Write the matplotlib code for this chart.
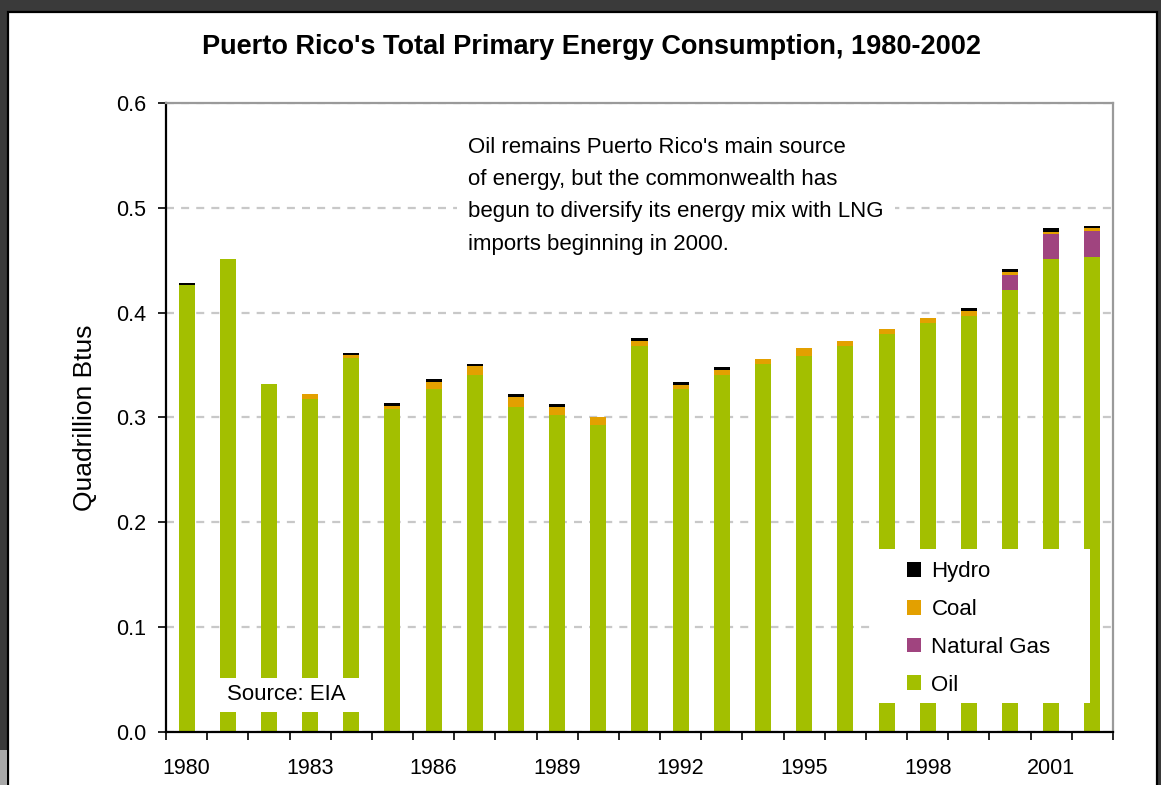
import matplotlib
matplotlib.use('Agg')
import numpy as np
import matplotlib.pyplot as plt
from matplotlib.patches import Patch, Rectangle


# Values (quadrillion Btu)

years = list(range(1980, 2003))

oil = [0.426, 0.451, 0.332, 0.3175, 0.3565, 0.308, 0.327, 0.341, 0.310, 0.3025,
       0.293, 0.368, 0.327, 0.341, 0.351, 0.359, 0.3686, 0.380, 0.390, 0.397,
       0.422, 0.451, 0.4535]
natural_gas = [0, 0, 0, 0, 0, 0, 0, 0, 0, 0,
               0, 0, 0, 0, 0, 0, 0, 0, 0, 0,
               0.0142, 0.0242, 0.0245]
coal = [0, 0, 0, 0.0045, 0.003, 0.003, 0.007, 0.008, 0.0096, 0.0073,
        0.007, 0.005, 0.004, 0.0044, 0.005, 0.0073, 0.0045, 0.0048, 0.0047, 0.0048,
        0.0026, 0.0022, 0.0026]
hydro = [0.002, 0, 0, 0, 0.0023, 0.0025, 0.0025, 0.0023, 0.003, 0.003,
         0, 0.0026, 0.003, 0.003, 0, 0, 0, 0, 0, 0.0029,
         0.003, 0.003, 0.0025]

series_names = ['Oil', 'Natural Gas', 'Coal', 'Hydro']
series_colors = ['#a3bf00', '#a0447f', '#e3a000', '#000000']

ytick_values = [0.0, 0.1, 0.2, 0.3, 0.4, 0.5, 0.6]

note = ("Oil remains Puerto Rico's main source\n"
        "of energy, but the commonwealth has\n"
        "begun to diversify its energy mix with LNG\n"
        "imports beginning in 2000.")

plt.rcParams['font.family'] = ['Liberation Sans', 'DejaVu Sans']

W, H = 1161, 785
fig = plt.figure(figsize=(W / 100, H / 100), dpi=100)
fig.patch.set_facecolor('#3a3a3a')

# white panel with black frame (screenshot of the chart object)
fig.patches.append(Rectangle((8 / W, -0.02), (1157 - 8) / W, 1 - 12 / H + 0.02,
                             transform=fig.transFigure, facecolor='white',
                             edgecolor='black', linewidth=1.6, zorder=-10))
fig.patches.append(Rectangle((0, 0), 7 / W, 35 / H, transform=fig.transFigure,
                             facecolor='#a8a8a8', edgecolor='none', zorder=-10))

fig.text(591 / W, 1 - 47 / H,
         "Puerto Rico's Total Primary Energy Consumption, 1980-2002",
         ha='center', va='center', fontsize=19.5, fontweight='bold')

ax = fig.add_axes([166 / W, 1 - 732 / H, (1113 - 166) / W, (732 - 103) / H])
ax.set_facecolor('white')

x = np.arange(len(years))
bottom = np.zeros(len(years))
for vals, name, col in zip([oil, natural_gas, coal, hydro], series_names, series_colors):
    ax.bar(x, vals, 0.39, bottom=bottom, color=col, linewidth=0, zorder=2, label=name)
    bottom += np.array(vals)

ax.set_xlim(-0.5, len(years) - 0.5)
ax.set_ylim(0, 0.6)

# y axis
ax.set_yticks(ytick_values)
ax.set_yticklabels(['{:.1f}'.format(v) for v in ytick_values], fontsize=15.5)
ax.tick_params(axis='y', direction='out', length=6, width=1.2, pad=8)
ax.set_ylabel('Quadrillion Btus', fontsize=19)
ax.yaxis.set_label_coords(-0.073, 0.5)
ax.yaxis.grid(True, color='#c8c8c8', linestyle=(0, (3.6, 3.2)), linewidth=1.6)
ax.set_axisbelow(True)

# x axis: labels every third year, tick marks between categories
ax.set_xticks(x[::3])
ax.set_xticklabels([str(y) for y in years[::3]], fontsize=15.5)
ax.set_xticks(np.arange(-0.5, len(years), 1), minor=True)
ax.tick_params(axis='x', which='major', length=0, pad=19)
ax.tick_params(axis='x', which='minor', direction='out', length=6, width=1.2)

for side in ['left', 'bottom']:
    ax.spines[side].set_color('black')
    ax.spines[side].set_linewidth(1.6)
for side in ['top', 'right']:
    ax.spines[side].set_color('#9a9a9a')
    ax.spines[side].set_linewidth(1.6)

# annotation in a white box
ax.text((468 - 166) / 947, (732 - 137) / 629, note, transform=ax.transAxes,
        ha='left', va='top', fontsize=16, linespacing=1.7, zorder=4,
        bbox=dict(facecolor='white', edgecolor='none', pad=8))

# source box
ax.add_patch(Rectangle(((205 - 166) / 947, (732 - 712) / 629), 165 / 947, 34 / 629,
                       transform=ax.transAxes, facecolor='white', edgecolor='none',
                       zorder=3))
ax.text((286 - 166) / 947, (732 - 695) / 629, 'Source: EIA', transform=ax.transAxes,
        ha='center', va='center', fontsize=16, zorder=4)

# legend box
ax.add_patch(Rectangle(((876 - 166) / 947, (732 - 703) / 629), 214 / 947, 154 / 629,
                       transform=ax.transAxes, facecolor='white', edgecolor='none',
                       zorder=3))
handles = [Patch(facecolor=c, edgecolor='none') for c in series_colors[::-1]]
leg = ax.legend(handles, series_names[::-1], loc='upper left',
                bbox_to_anchor=((907 - 166) / 947, (732 - 561) / 629),
                frameon=False, fontsize=16, handlelength=0.65, handleheight=0.65,
                handletextpad=0.45, labelspacing=0.76, borderpad=0, borderaxespad=0)
leg.set_zorder(5)

fig.savefig('out.png', dpi=100, facecolor=fig.get_facecolor())
